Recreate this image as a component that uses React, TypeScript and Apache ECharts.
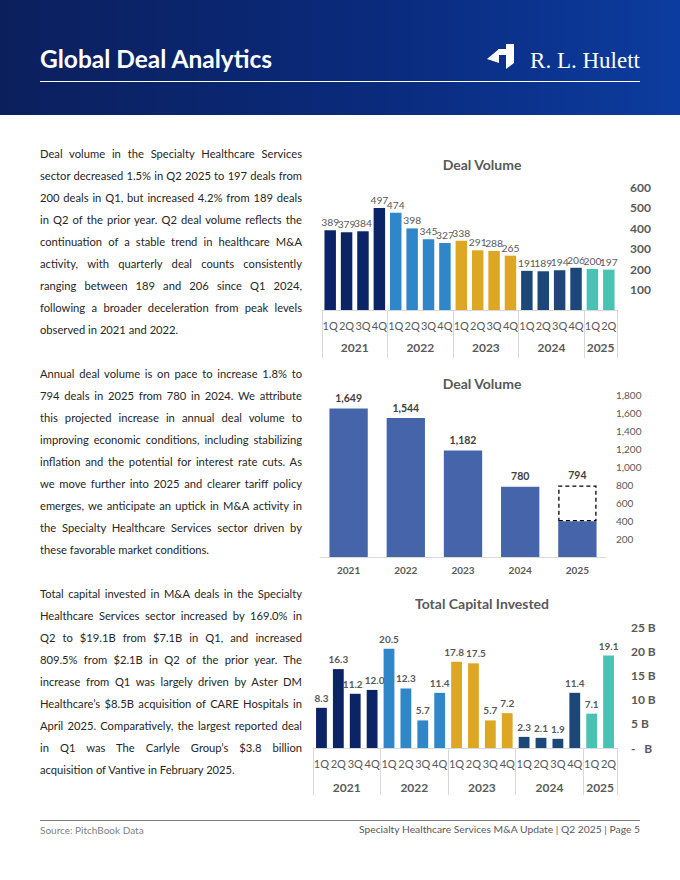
import React, { useEffect, useRef } from 'react';
import * as echarts from 'echarts';

// ---------- data ----------
const quarterLabels = ['1Q','2Q','3Q','4Q','1Q','2Q','3Q','4Q','1Q','2Q','3Q','4Q','1Q','2Q','3Q','4Q','1Q','2Q'];
const yearLabels = ['2021', '2022', '2023', '2024', '2025'];
const yearGroupSizes = [4, 4, 4, 4, 2];
const yearColors = ['#0b2465', '#2f87c9', '#dda623', '#1d4679', '#48c3b3'];
const quarterlyDealVolume = [389, 379, 384, 497, 474, 398, 345, 327, 338, 291, 288, 265, 191, 189, 194, 206, 200, 197];
const annualDealVolume = [1649, 1544, 1182, 780, 794];
const ytd2025DealVolume = 397;
const quarterlyCapitalB = [8.3, 16.3, 11.2, 12.0, 20.5, 12.3, 5.7, 11.4, 17.8, 17.5, 5.7, 7.2, 2.3, 2.1, 1.9, 11.4, 7.1, 19.1];
const quarterlyVolumeTicks = [0, 100, 200, 300, 400, 500, 600];
const annualVolumeTicks = [0, 200, 400, 600, 800, 1000, 1200, 1400, 1600, 1800];
const capitalTicks = [0, 5, 10, 15, 20, 25];

const paragraph1 = [
  'Deal volume in the Specialty Healthcare Services',
  'sector decreased 1.5% in Q2 2025 to 197 deals from',
  '200 deals in Q1, but increased 4.2% from 189 deals',
  'in Q2 of the prior year. Q2 deal volume reflects the',
  'continuation of a stable trend in healthcare M&A',
  'activity, with quarterly deal counts consistently',
  'ranging between 189 and 206 since Q1 2024,',
  'following a broader deceleration from peak levels',
  'observed in 2021 and 2022.',
];
const paragraph2 = [
  'Annual deal volume is on pace to increase 1.8% to',
  '794 deals in 2025 from 780 in 2024. We attribute',
  'this projected increase in annual deal volume to',
  'improving economic conditions, including stabilizing',
  'inflation and the potential for interest rate cuts. As',
  'we move further into 2025 and clearer tariff policy',
  'emerges, we anticipate an uptick in M&A activity in',
  'the Specialty Healthcare Services sector driven by',
  'these favorable market conditions.',
];
const paragraph3 = [
  'Total capital invested in M&A deals in the Specialty',
  'Healthcare Services sector increased by 169.0% in',
  'Q2 to $19.1B from $7.1B in Q1, and increased',
  '809.5% from $2.1B in Q2 of the prior year. The',
  'increase from Q1 was largely driven by Aster DM',
  'Healthcare\u2019s $8.5B acquisition of CARE Hospitals in',
  'April 2025. Comparatively, the largest reported deal',
  'in Q1 was The Carlyle Group\u2019s $3.8 billion',
  'acquisition of Vantive in February 2025.',
];

// ---------- helpers ----------
const FONT = 'Lato, "Noto Sans", sans-serif';
const GRAY = '#595959';
const quarterYearIndex: number[] = [];
yearGroupSizes.forEach((n, gi) => { for (let k = 0; k < n; k++) quarterYearIndex.push(gi); });
const groupBounds: number[] = [0];
yearGroupSizes.forEach((n) => groupBounds.push(groupBounds[groupBounds.length - 1] + n));
const groupCenters = yearGroupSizes.map((n, i) => groupBounds[i] + n / 2);
const yearAtCenter = (v: number) => {
  const i = groupCenters.findIndex((c) => Math.abs(c - v) < 1e-6);
  return i >= 0 ? yearLabels[i] : '';
};
const fmtInt = (v: number) => v.toLocaleString('en-US');

// nudge wide neighbouring labels of similar height apart so they do not collide
function capitalItems(values: number[]) {
  const shift = values.map(() => 0);
  for (let i = 0; i < values.length - 1; i++) {
    if (values[i] >= 10 && values[i + 1] >= 10 && Math.abs(values[i] - values[i + 1]) < 1) {
      shift[i] -= 2.5;
      shift[i + 1] += 2.5;
    }
  }
  return values.map((v, i) => (shift[i] ? { value: v, label: { offset: [shift[i], 0] } } : v));
}

function quarterGridAxes(gridIndex: number, labelMargin: number, yearMargin: number, tickLen: number) {
  return [
    {
      type: 'category', gridIndex, data: quarterLabels, position: 'bottom',
      axisLine: { show: true, lineStyle: { color: '#d9d9d9', width: 1 } },
      axisTick: { show: false },
      axisLabel: { color: GRAY, fontFamily: FONT, fontSize: 11, margin: labelMargin, interval: 0 },
    },
    {
      type: 'value', gridIndex, min: 0, max: quarterLabels.length, position: 'bottom',
      axisLine: { show: false },
      splitLine: { show: false },
      axisTick: { show: true, customValues: groupBounds, length: tickLen, lineStyle: { color: '#d9d9d9', width: 1 } },
      axisLabel: {
        customValues: groupCenters, formatter: (v: number) => yearAtCenter(v),
        color: GRAY, fontFamily: FONT, fontSize: 12, fontWeight: 'bold', margin: yearMargin,
      },
    },
  ];
}

function Chart() {
  const ref = useRef<HTMLDivElement>(null);
  useEffect(() => {
    if (!ref.current) return;
    const chart = echarts.init(ref.current, null, { renderer: 'svg' });
    const quarterColor = (p: any) => yearColors[quarterYearIndex[p.dataIndex]];
    const option: any = {
      animation: false,
      textStyle: { fontFamily: FONT },
      grid: [
        { left: 322, top: 187, width: 295, height: 123, containLabel: false, outerBoundsMode: 'none' },
        { left: 320, top: 395, width: 286, height: 162, containLabel: false, outerBoundsMode: 'none' },
        { left: 313, top: 627, width: 304, height: 121, containLabel: false, outerBoundsMode: 'none' },
      ],
      xAxis: [
        ...quarterGridAxes(0, 10, 31, 48),
        {
          type: 'category', gridIndex: 1, data: yearLabels,
          axisLine: { show: true, lineStyle: { color: '#d9d9d9' } },
          axisTick: { show: false },
          axisLabel: { color: GRAY, fontFamily: FONT, fontSize: 10, fontWeight: 'bold', margin: 8 },
        },
        ...quarterGridAxes(2, 10, 33, 47),
      ],
      yAxis: [
        {
          type: 'value', gridIndex: 0, position: 'right', min: quarterlyVolumeTicks[0],
          max: quarterlyVolumeTicks[quarterlyVolumeTicks.length - 1], interval: 100,
          splitLine: { show: false }, axisLine: { show: false }, axisTick: { show: false },
          axisLabel: { color: GRAY, fontFamily: FONT, fontSize: 12, fontWeight: 'bold', margin: 13,
            formatter: (v: number) => (v === 0 ? '' : String(v)) },
        },
        {
          type: 'value', gridIndex: 1, position: 'right', min: annualVolumeTicks[0],
          max: annualVolumeTicks[annualVolumeTicks.length - 1], interval: 200,
          splitLine: { show: false }, axisLine: { show: false }, axisTick: { show: false },
          axisLabel: { color: GRAY, fontFamily: FONT, fontSize: 10, margin: 10,
            formatter: (v: number) => (v === 0 ? '' : fmtInt(v)) },
        },
        {
          type: 'value', gridIndex: 2, position: 'right', min: capitalTicks[0],
          max: capitalTicks[capitalTicks.length - 1], interval: 5,
          splitLine: { show: false }, axisLine: { show: false }, axisTick: { show: false },
          axisLabel: { color: GRAY, fontFamily: FONT, fontSize: 12, fontWeight: 'bold', margin: 14,
            formatter: (v: number) => (v === 0 ? '-   B' : v + ' B') },
        },
      ],
      series: [
        {
          type: 'bar', xAxisIndex: 0, yAxisIndex: 0, data: quarterlyDealVolume,
          barCategoryGap: '30%',
          itemStyle: { color: quarterColor },
          label: { show: true, position: 'top', distance: 3, color: GRAY, fontFamily: FONT, fontSize: 10.3 },
        },
        {
          type: 'bar', xAxisIndex: 2, yAxisIndex: 1, stack: 'annual', barCategoryGap: '33%',
          data: annualDealVolume.map((v, i) =>
            i === annualDealVolume.length - 1 ? { value: ytd2025DealVolume, label: { show: false } } : v),
          itemStyle: { color: '#4564a9' },
          label: { show: true, position: 'top', distance: 5, color: '#404040', fontFamily: FONT, fontSize: 10.5,
            fontWeight: 'bold', formatter: (p: any) => fmtInt(p.value) },
        },
        {
          type: 'bar', xAxisIndex: 2, yAxisIndex: 1, stack: 'annual', barCategoryGap: '33%',
          data: annualDealVolume.map((v, i) =>
            i === annualDealVolume.length - 1 ? v - ytd2025DealVolume : '-'),
          itemStyle: { color: 'rgba(255,255,255,0)', borderColor: '#000', borderWidth: 1.3, borderType: [4, 3] },
          label: { show: true, position: 'top', distance: 5, color: '#404040', fontFamily: FONT, fontSize: 10.5,
            fontWeight: 'bold', formatter: () => fmtInt(annualDealVolume[annualDealVolume.length - 1]) },
        },
        {
          type: 'bar', xAxisIndex: 3, yAxisIndex: 2, data: capitalItems(quarterlyCapitalB),
          barCategoryGap: '36%',
          itemStyle: { color: quarterColor },
          label: { show: true, position: 'top', distance: 5, color: GRAY, fontFamily: FONT, fontSize: 10,
            fontWeight: 'bold', formatter: (p: any) => Number(p.value).toFixed(1) },
        },
      ],
      graphic: [
        {
          type: 'rect', shape: { x: 0, y: 0, width: 680, height: 115 }, z: -10,
          style: {
            fill: new echarts.graphic.LinearGradient(0, 0, 1, 0, [
              { offset: 0, color: '#0b1f5c' },
              { offset: 0.55, color: '#0a2a7c' },
              { offset: 1, color: '#0c3c9f' },
            ]),
          },
        },
        { type: 'text', x: 40, y: 58, style: { text: 'Global Deal Analytics', fill: '#fff', font: `bold 24.5px ${FONT}`, verticalAlign: 'middle' } },
        { type: 'line', shape: { x1: 40, y1: 81.5, x2: 640, y2: 81.5 }, style: { stroke: '#ffffff', lineWidth: 1 } },
        { type: 'polygon', shape: { points: [[487, 59], [499, 49], [499, 63]] }, style: { fill: '#fff' } },
        { type: 'polygon', shape: { points: [[498, 49], [506, 49], [506, 55], [498, 55]] }, style: { fill: '#fff' } },
        { type: 'polygon', shape: { points: [[506, 44], [514, 44], [514, 63], [506, 69]] }, style: { fill: '#fff' } },
        { type: 'text', x: 640, y: 60, style: { text: 'R. L. Hulett', fill: '#fff', font: '23px "Liberation Serif", serif', align: 'right', verticalAlign: 'middle' } },
        { type: 'text', x: 482, y: 164, style: { text: 'Deal Volume', fill: GRAY, font: `bold 14px ${FONT}`, align: 'center', verticalAlign: 'middle' } },
        { type: 'text', x: 482, y: 383, style: { text: 'Deal Volume', fill: GRAY, font: `bold 14px ${FONT}`, align: 'center', verticalAlign: 'middle' } },
        { type: 'text', x: 482, y: 603, style: { text: 'Total Capital Invested', fill: GRAY, font: `bold 14px ${FONT}`, align: 'center', verticalAlign: 'middle' } },
        { type: 'line', shape: { x1: 40, y1: 820.5, x2: 640, y2: 820.5 }, style: { stroke: '#808080', lineWidth: 1 } },
        { type: 'text', x: 40, y: 830, style: { text: 'Source: PitchBook Data', fill: '#7f7f7f', font: `10px ${FONT}`, verticalAlign: 'middle' } },
        { type: 'text', x: 640, y: 829, style: { text: 'Specialty Healthcare Services M&A Update | Q2 2025 | Page 5', fill: GRAY, font: `10.3px ${FONT}`, align: 'right', verticalAlign: 'middle' } },
      ],
    };
    chart.setOption(option);
    return () => chart.dispose();
  }, []);
  return (
    <div ref={ref} style={{ position: 'absolute', left: 0, top: 0, width: 680, height: 880, pointerEvents: 'none', zIndex: 1 }} />
  );
}

function Paragraph({ lines, top }: { lines: string[]; top: number }) {
  return (
    <div style={{ position: 'absolute', left: 40, top, width: 262, fontFamily: FONT, fontSize: 11.2, color: '#262626' }}>
      {lines.map((l, i) => (
        <div
          key={i}
          style={{
            height: 22, lineHeight: '22px', whiteSpace: 'nowrap',
            textAlign: i === lines.length - 1 ? 'left' : 'justify',
            textAlignLast: i === lines.length - 1 ? 'left' : 'justify',
          } as any}
        >
          {l}
        </div>
      ))}
    </div>
  );
}

export default function App() {
  return (
    <div style={{ position: 'absolute', left: 0, top: 0, width: 680, height: 880, background: '#fff', overflow: 'hidden' }}>
      <Paragraph lines={paragraph1} top={142.5} />
      <Paragraph lines={paragraph2} top={363} />
      <Paragraph lines={paragraph3} top={583} />
      <Chart />
    </div>
  );
}
